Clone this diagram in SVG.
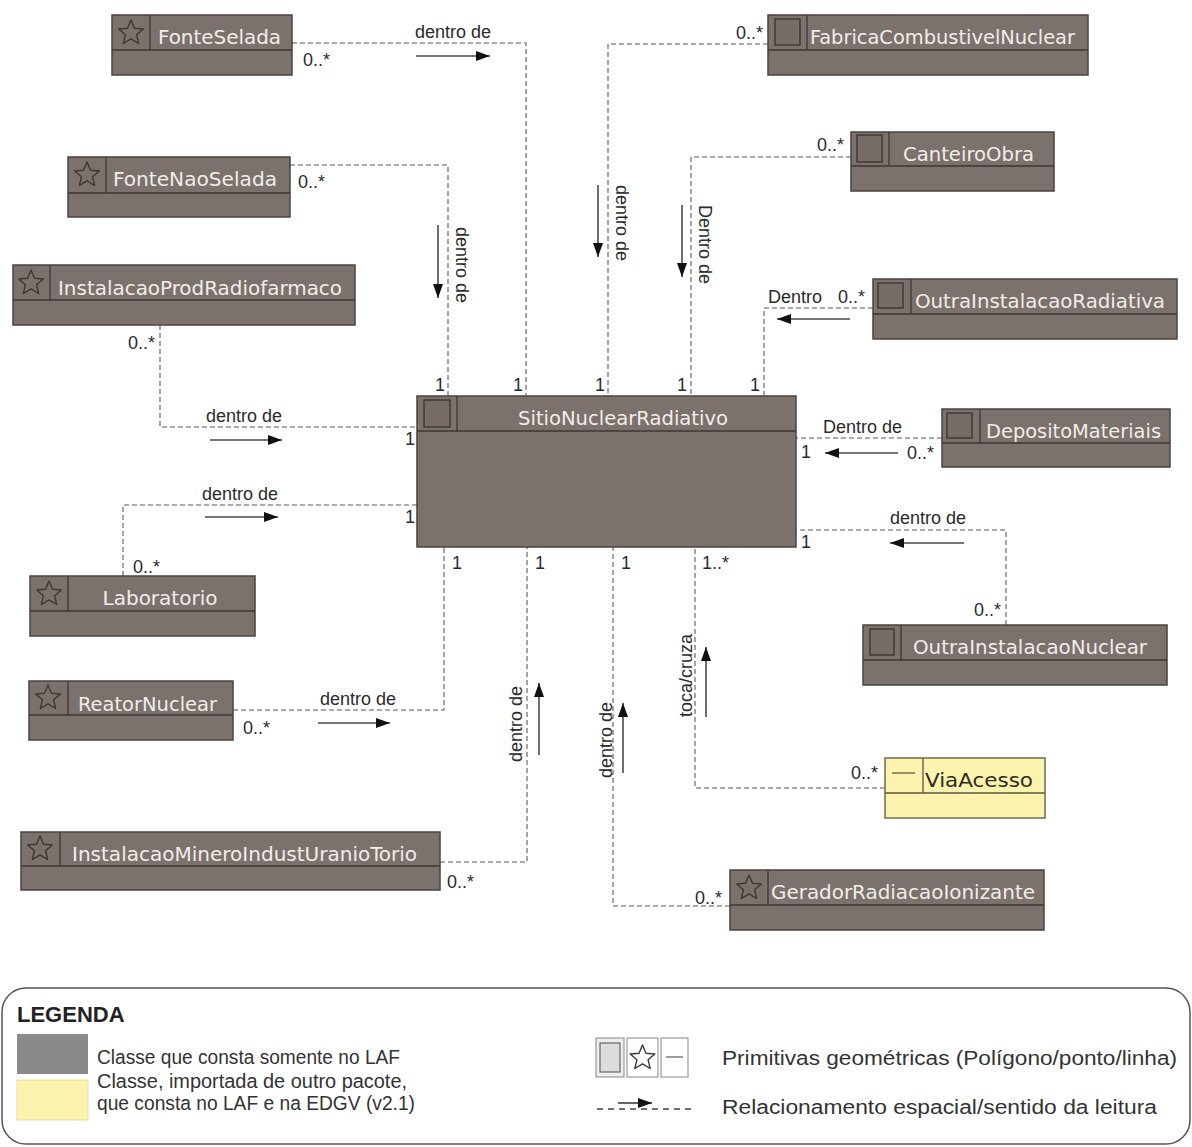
<svg xmlns="http://www.w3.org/2000/svg" xmlns:xlink="http://www.w3.org/1999/xlink" width="1192" height="1147" viewBox="0 0 1192 1147">
<style>
.box{fill:#7b726d;stroke:#4a4340;stroke-width:1.5}
.ybox{fill:#fcf3ae;stroke:#6e6c52;stroke-width:1.5}
.sep{stroke:#3d3734;stroke-width:1.3}
.ysep{stroke:#5a5840;stroke-width:1.3}
.sq{fill:#766d68;stroke:#3d3734;stroke-width:1.4}
.star{fill:none;stroke:#3d3734;stroke-width:1.4;stroke-linejoin:round}
.name{font-family:"DejaVu Sans Condensed","DejaVu Sans",sans-serif;font-size:20px;fill:#f1ede9;text-anchor:middle}
.yname{font-family:"DejaVu Sans Condensed","DejaVu Sans",sans-serif;font-size:20px;fill:#2e2c22;text-anchor:middle}
.dash{fill:none;stroke:#8e8e8e;stroke-width:1.6;stroke-dasharray:5 3}
.arr{fill:none;stroke:#4a4a4a;stroke-width:1.6;marker-end:url(#ah)}
.lbl{font-family:"Liberation Sans",Arial,sans-serif;font-size:18px;fill:#2b2b2b}
.mul{font-family:"Liberation Sans",Arial,sans-serif;font-size:18px;fill:#2b2b2b}
.leg{font-family:"Liberation Sans",Arial,sans-serif;font-size:20px;fill:#333}
</style>
<defs>
<marker id="ah" viewBox="0 0 14 10" refX="14" refY="5" markerWidth="14" markerHeight="10" markerUnits="userSpaceOnUse" orient="auto">
<path d="M0,0 L14,5 L0,10 z" fill="#111"/>
</marker>
<polygon id="star" class="star" points="0,-13 3.47,-4.78 12.36,-4.02 5.63,1.83 7.64,10.52 0,5.9 -7.64,10.52 -5.63,1.83 -12.36,-4.02 -3.47,-4.78"/>
</defs>
<rect width="1192" height="1147" fill="#ffffff"/>

<g id="connectors">
<path class="dash" d="M292,43 H526 V396"/>
<path class="dash" d="M290,165 H448 V396"/>
<path class="dash" d="M768,44 H608 V396"/>
<path class="dash" d="M851,157 H691 V396"/>
<path class="dash" d="M873,308 H764 V396"/>
<path class="dash" d="M942,438 H796"/>
<path class="dash" d="M1006,625 V530 H796"/>
<path class="dash" d="M160,325 V427 H417"/>
<path class="dash" d="M123,576 V505 H417"/>
<path class="dash" d="M233,710 H444 V547"/>
<path class="dash" d="M440,862 H527 V547"/>
<path class="dash" d="M730,906 H613 V547"/>
<path class="dash" d="M885,788 H695 V547"/>

<line class="arr" x1="416" y1="56" x2="490" y2="56"/>
<line class="arr" x1="438" y1="225" x2="438" y2="298"/>
<line class="arr" x1="598" y1="185" x2="598" y2="257"/>
<line class="arr" x1="682" y1="205" x2="682" y2="277"/>
<line class="arr" x1="850" y1="319" x2="777" y2="319"/>
<line class="arr" x1="898" y1="453" x2="825" y2="453"/>
<line class="arr" x1="964" y1="543" x2="890" y2="543"/>
<line class="arr" x1="210" y1="440" x2="282" y2="440"/>
<line class="arr" x1="205" y1="517" x2="278" y2="517"/>
<line class="arr" x1="318" y1="723" x2="390" y2="723"/>
<line class="arr" x1="539" y1="755" x2="539" y2="683"/>
<line class="arr" x1="623" y1="773" x2="623" y2="703"/>
<line class="arr" x1="706" y1="717" x2="706" y2="647"/>

<text class="lbl" x="415" y="38">dentro de</text>
<text class="lbl" transform="translate(456,227) rotate(90)">dentro de</text>
<text class="lbl" transform="translate(616,185) rotate(90)">dentro de</text>
<text class="lbl" transform="translate(699,205) rotate(90)">Dentro de</text>
<text class="lbl" x="768" y="303">Dentro</text>
<text class="lbl" x="823" y="433">Dentro de</text>
<text class="lbl" x="890" y="524">dentro de</text>
<text class="lbl" x="206" y="422">dentro de</text>
<text class="lbl" x="202" y="500">dentro de</text>
<text class="lbl" x="320" y="705">dentro de</text>
<text class="lbl" transform="translate(522,762) rotate(-90)">dentro de</text>
<text class="lbl" transform="translate(612,778) rotate(-90)">dentro de</text>
<text class="lbl" transform="translate(692,717) rotate(-90)">toca/cruza</text>

<text class="mul" x="303" y="66">0..*</text>
<text class="mul" x="298" y="188">0..*</text>
<text class="mul" x="128" y="349">0..*</text>
<text class="mul" x="133" y="573">0..*</text>
<text class="mul" x="243" y="734">0..*</text>
<text class="mul" x="447" y="888">0..*</text>
<text class="mul" x="736" y="39">0..*</text>
<text class="mul" x="817" y="151">0..*</text>
<text class="mul" x="838" y="303">0..*</text>
<text class="mul" x="907" y="459">0..*</text>
<text class="mul" x="974" y="616">0..*</text>
<text class="mul" x="851" y="779">0..*</text>
<text class="mul" x="695" y="904">0..*</text>

<text class="mul" x="435" y="391">1</text>
<text class="mul" x="513" y="391">1</text>
<text class="mul" x="595" y="391">1</text>
<text class="mul" x="677" y="391">1</text>
<text class="mul" x="750" y="391">1</text>
<text class="mul" x="405" y="445">1</text>
<text class="mul" x="405" y="523">1</text>
<text class="mul" x="801" y="458">1</text>
<text class="mul" x="801" y="548">1</text>
<text class="mul" x="452" y="569">1</text>
<text class="mul" x="535" y="569">1</text>
<text class="mul" x="621" y="569">1</text>
<text class="mul" x="702" y="569">1..*</text>
</g>

<g id="FonteSelada">
<rect class="box" x="112" y="15" width="180" height="60"/>
<line class="sep" x1="112" y1="50" x2="292" y2="50"/>
<line class="sep" x1="150" y1="15" x2="150" y2="50"/>
<use xlink:href="#star" x="131" y="33"/>
<text class="name" x="219.5" y="44" textLength="123" lengthAdjust="spacingAndGlyphs">FonteSelada</text>
</g>

<g id="FonteNaoSelada">
<rect class="box" x="68" y="157" width="222" height="60"/>
<line class="sep" x1="68" y1="193" x2="290" y2="193"/>
<line class="sep" x1="106" y1="157" x2="106" y2="193"/>
<use xlink:href="#star" x="87" y="175"/>
<text class="name" x="195" y="186" textLength="164" lengthAdjust="spacingAndGlyphs">FonteNaoSelada</text>
</g>

<g id="InstalacaoProdRadiofarmaco">
<rect class="box" x="13" y="265" width="342" height="60"/>
<line class="sep" x1="13" y1="300" x2="355" y2="300"/>
<line class="sep" x1="50" y1="265" x2="50" y2="300"/>
<use xlink:href="#star" x="31" y="283"/>
<text class="name" x="200" y="295" textLength="284" lengthAdjust="spacingAndGlyphs">InstalacaoProdRadiofarmaco</text>
</g>

<g id="Laboratorio">
<rect class="box" x="30" y="576" width="225" height="60"/>
<line class="sep" x1="30" y1="611" x2="255" y2="611"/>
<line class="sep" x1="68" y1="576" x2="68" y2="611"/>
<use xlink:href="#star" x="49" y="594"/>
<text class="name" x="160" y="605" textLength="115" lengthAdjust="spacingAndGlyphs">Laboratorio</text>
</g>

<g id="ReatorNuclear">
<rect class="box" x="29" y="681" width="204" height="59"/>
<line class="sep" x1="29" y1="715" x2="233" y2="715"/>
<line class="sep" x1="68" y1="681" x2="68" y2="715"/>
<use xlink:href="#star" x="48" y="698"/>
<text class="name" x="147.5" y="711" textLength="139" lengthAdjust="spacingAndGlyphs">ReatorNuclear</text>
</g>

<g id="InstalacaoMineroIndustUranioTorio">
<rect class="box" x="21" y="832" width="419" height="58"/>
<line class="sep" x1="21" y1="866" x2="440" y2="866"/>
<line class="sep" x1="60" y1="832" x2="60" y2="866"/>
<use xlink:href="#star" x="40" y="849"/>
<text class="name" x="244.5" y="861" textLength="345" lengthAdjust="spacingAndGlyphs">InstalacaoMineroIndustUranioTorio</text>
</g>

<g id="SitioNuclearRadiativo">
<rect class="box" x="417" y="396" width="379" height="151"/>
<line class="sep" x1="417" y1="431" x2="796" y2="431"/>
<line class="sep" x1="457" y1="396" x2="457" y2="431"/>
<rect class="sq" x="424" y="400" width="26" height="27"/>
<text class="name" x="623" y="425" textLength="210" lengthAdjust="spacingAndGlyphs">SitioNuclearRadiativo</text>
</g>

<g id="FabricaCombustivelNuclear">
<rect class="box" x="768" y="15" width="320" height="60"/>
<line class="sep" x1="768" y1="50" x2="1088" y2="50"/>
<line class="sep" x1="807" y1="15" x2="807" y2="50"/>
<rect class="sq" x="775" y="19" width="25" height="26"/>
<text class="name" x="942.5" y="44" textLength="265" lengthAdjust="spacingAndGlyphs">FabricaCombustivelNuclear</text>
</g>

<g id="CanteiroObra">
<rect class="box" x="851" y="132" width="203" height="59"/>
<line class="sep" x1="851" y1="166" x2="1054" y2="166"/>
<line class="sep" x1="889" y1="132" x2="889" y2="166"/>
<rect class="sq" x="857" y="135" width="25" height="27"/>
<text class="name" x="968.5" y="161" textLength="131" lengthAdjust="spacingAndGlyphs">CanteiroObra</text>
</g>

<g id="OutraInstalacaoRadiativa">
<rect class="box" x="873" y="279" width="304" height="60"/>
<line class="sep" x1="873" y1="314" x2="1177" y2="314"/>
<line class="sep" x1="911" y1="279" x2="911" y2="314"/>
<rect class="sq" x="878" y="283" width="25" height="25"/>
<text class="name" x="1040" y="308" textLength="250" lengthAdjust="spacingAndGlyphs">OutraInstalacaoRadiativa</text>
</g>

<g id="DepositoMateriais">
<rect class="box" x="942" y="409" width="228" height="58"/>
<line class="sep" x1="942" y1="443" x2="1170" y2="443"/>
<line class="sep" x1="980" y1="409" x2="980" y2="443"/>
<rect class="sq" x="947" y="413" width="25" height="25"/>
<text class="name" x="1073.5" y="438" textLength="175" lengthAdjust="spacingAndGlyphs">DepositoMateriais</text>
</g>

<g id="OutraInstalacaoNuclear">
<rect class="box" x="863" y="625" width="304" height="60"/>
<line class="sep" x1="863" y1="660" x2="1167" y2="660"/>
<line class="sep" x1="901" y1="625" x2="901" y2="660"/>
<rect class="sq" x="870" y="629" width="24" height="26"/>
<text class="name" x="1030" y="654" textLength="234" lengthAdjust="spacingAndGlyphs">OutraInstalacaoNuclear</text>
</g>

<g id="ViaAcesso">
<rect class="ybox" x="885" y="758" width="160" height="60"/>
<line class="ysep" x1="885" y1="793" x2="1045" y2="793"/>
<line class="ysep" x1="923" y1="758" x2="923" y2="793"/>
<line class="ysep" x1="892" y1="773" x2="915" y2="773"/>
<text class="yname" x="979" y="787" textLength="108" lengthAdjust="spacingAndGlyphs">ViaAcesso</text>
</g>

<g id="GeradorRadiacaoIonizante">
<rect class="box" x="730" y="870" width="314" height="60"/>
<line class="sep" x1="730" y1="905" x2="1044" y2="905"/>
<line class="sep" x1="768" y1="870" x2="768" y2="905"/>
<use xlink:href="#star" x="749" y="888"/>
<text class="name" x="903" y="899" textLength="264" lengthAdjust="spacingAndGlyphs">GeradorRadiacaoIonizante</text>
</g>

<g id="legend">
<rect x="2" y="988" width="1188" height="156" rx="24" ry="24" fill="#ffffff" stroke="#555" stroke-width="1.5"/>
<text x="17" y="1022" font-family="Liberation Sans, Arial, sans-serif" font-size="22" font-weight="bold" fill="#222">LEGENDA</text>
<rect x="17" y="1034" width="71" height="40" fill="#8a8a8a"/>
<rect x="17" y="1080" width="71" height="40" fill="#fcf3ae" stroke="#e8e0a0" stroke-width="1"/>
<text class="leg" x="97" y="1064" textLength="303" lengthAdjust="spacingAndGlyphs">Classe que consta somente no LAF</text>
<text class="leg" x="97" y="1088" textLength="310" lengthAdjust="spacingAndGlyphs">Classe, importada de outro pacote,</text>
<text class="leg" x="97" y="1110" textLength="318" lengthAdjust="spacingAndGlyphs">que consta no LAF e na EDGV (v2.1)</text>
<rect x="596" y="1038" width="28" height="39" fill="#eeeeee" stroke="#999" stroke-width="1.2"/>
<rect x="600" y="1043" width="20" height="29" fill="#dddddd" stroke="#666" stroke-width="1.2"/>
<rect x="627" y="1038" width="31" height="39" fill="#ffffff" stroke="#999" stroke-width="1.2"/>
<use xlink:href="#star" x="642.5" y="1058" style="stroke:#666"/>
<rect x="661" y="1038" width="27" height="39" fill="#ffffff" stroke="#999" stroke-width="1.2"/>
<line x1="666" y1="1057" x2="683" y2="1057" stroke="#666" stroke-width="1.3"/>
<text class="leg" x="722" y="1065" textLength="455" lengthAdjust="spacingAndGlyphs">Primitivas geométricas (Polígono/ponto/linha)</text>
<line x1="597" y1="1109" x2="692" y2="1109" stroke="#444" stroke-width="1.5" stroke-dasharray="6 5"/>
<line x1="618" y1="1103" x2="652" y2="1103" stroke="#333" stroke-width="1.4" marker-end="url(#ah)"/>
<text class="leg" x="722" y="1114" textLength="435" lengthAdjust="spacingAndGlyphs">Relacionamento espacial/sentido da leitura</text>
</g>
</svg>
